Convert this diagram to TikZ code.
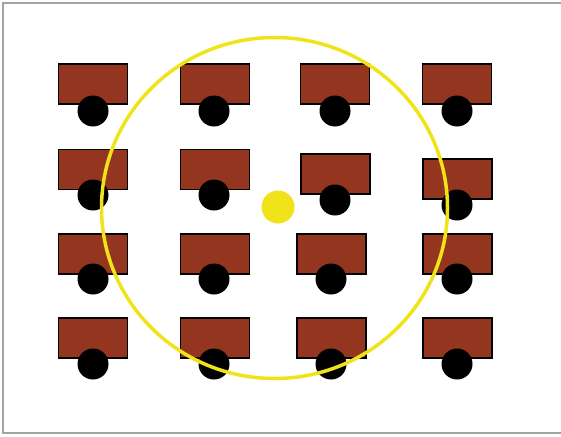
\documentclass[tikz,border=0pt]{standalone}
\definecolor{deskbrown}{HTML}{943520}
\definecolor{ringyellow}{HTML}{F0E31A}
\definecolor{framegray}{HTML}{A3A3A3}
\tikzset{
  desk/.style={draw=black, fill=deskbrown, line width=1.2pt, inner sep=0pt,
    minimum width=69pt, minimum height=40pt},
  chair/.style={circle, fill=black, inner sep=0pt, minimum size=31pt},
  ring/.style={draw=ringyellow, line width=3.5pt},
  teacher/.style={circle, fill=ringyellow, inner sep=0pt, minimum size=33pt}
}

\begin{document}
\begin{tikzpicture}[x=1pt, y=-1pt]

% Page frame (pixel coordinates, y downwards)
\useasboundingbox (0,0) rectangle (561,436);
\draw[framegray, line width=1.5pt] (561,3) -- (3,3) -- (3,433) -- (561,433);

% Desks with their chairs, row by row
\foreach \dx/\dy/\cx/\cy [count=\i] in {
    93/84/93/111, 215/84/214/111, 335/84/335/111, 457/84/457/111,
    93/169.5/93/195, 215/169.5/214/195, 335.5/174/335/200, 457.5/179/457/205,
    93/254/93/279, 215/254/214/279, 331.5/254/331/279, 457.5/254/457/279,
    93/338/93/364, 215/338/214/364, 331.5/338/331/364, 457.5/338/457/364}
{
  \node[desk] (desk\i) at (\dx,\dy) {};
  \node[chair] (chair\i) at (\cx,\cy) {};
}

% Teacher and reach circle
\coordinate (centre) at (274.5,208);
\draw[ring] (centre) ellipse (173 and 170.5);
\node[teacher] (teacher) at (278,207) {};

\end{tikzpicture}
\end{document}
